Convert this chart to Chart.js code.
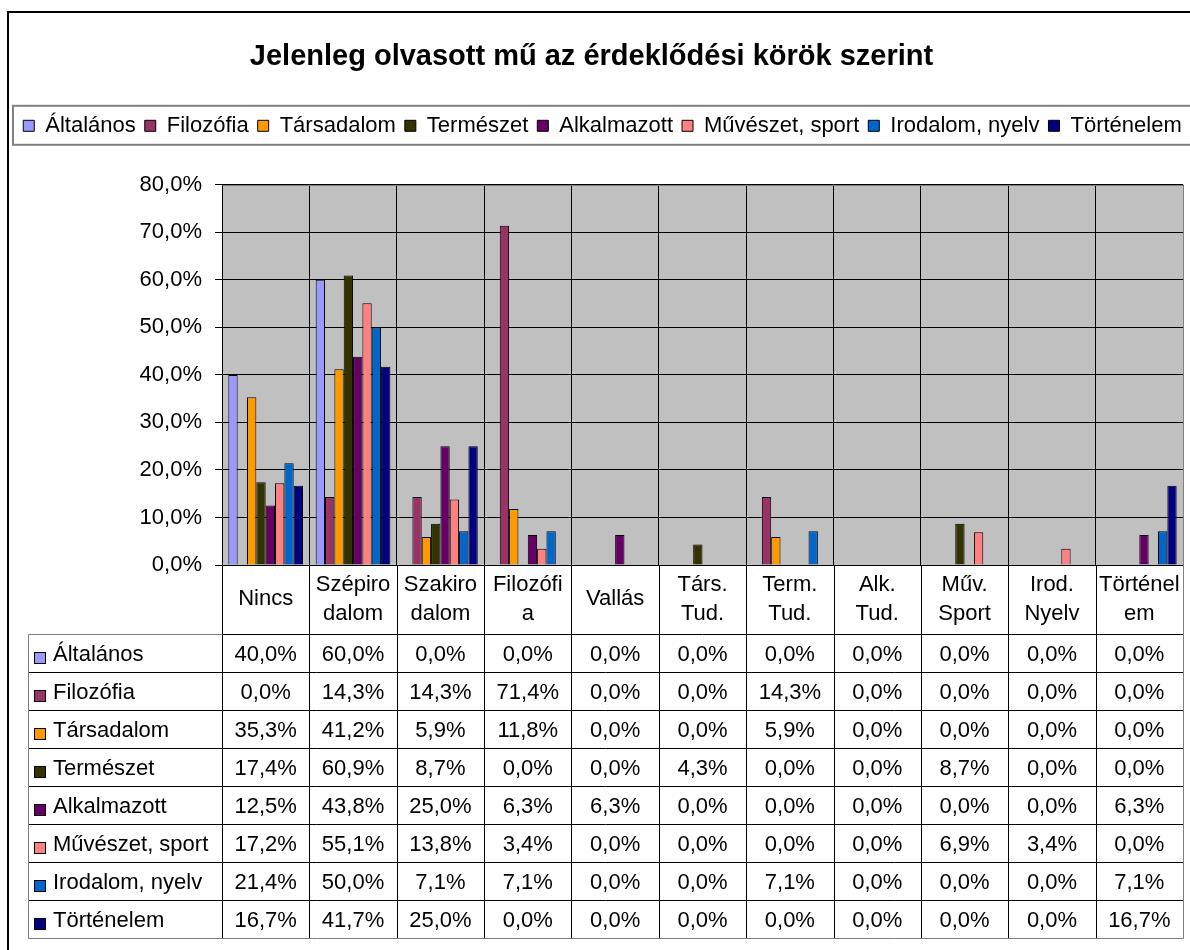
<!DOCTYPE html>
<html>
<head>
<meta charset="utf-8">
<script src="https://cdn.jsdelivr.net/npm/chart.js@4.4.0/dist/chart.umd.min.js"></script>
<style>html,body{margin:0;padding:0;background:#fff}canvas{display:block}</style>
</head>
<body>
<canvas id="c" width="1190" height="950"></canvas>
<script>
// ---- data ----
const chartTitle = 'Jelenleg olvasott mű az érdeklődési körök szerint';
const categories = ['Nincs', ['Szépiro', 'dalom'], ['Szakiro', 'dalom'], ['Filozófi', 'a'], 'Vallás',
  ['Társ.', 'Tud.'], ['Term.', 'Tud.'], ['Alk.', 'Tud.'], ['Műv.', 'Sport'], ['Irod.', 'Nyelv'], ['Történel', 'em']];
const seriesNames = ['Általános', 'Filozófia', 'Társadalom', 'Természet', 'Alkalmazott',
  'Művészet, sport', 'Irodalom, nyelv', 'Történelem'];
const seriesColors = ['#9999FF', '#993366', '#FF9900', '#333300', '#660066', '#FF8080', '#0066CC', '#000080'];
const valAltalanos  = [40.0, 60.0, 0.0, 0.0, 0.0, 0.0, 0.0, 0.0, 0.0, 0.0, 0.0];
const valFilozofia  = [0.0, 14.3, 14.3, 71.4, 0.0, 0.0, 14.3, 0.0, 0.0, 0.0, 0.0];
const valTarsadalom = [35.3, 41.2, 5.9, 11.8, 0.0, 0.0, 5.9, 0.0, 0.0, 0.0, 0.0];
const valTermeszet  = [17.4, 60.9, 8.7, 0.0, 0.0, 4.3, 0.0, 0.0, 8.7, 0.0, 0.0];
const valAlkalmazott = [12.5, 43.8, 25.0, 6.3, 6.3, 0.0, 0.0, 0.0, 0.0, 0.0, 6.3];
const valMuveszet   = [17.2, 55.1, 13.8, 3.4, 0.0, 0.0, 0.0, 0.0, 6.9, 3.4, 0.0];
const valIrodalom   = [21.4, 50.0, 7.1, 7.1, 0.0, 0.0, 7.1, 0.0, 0.0, 0.0, 7.1];
const valTortenelem = [16.7, 41.7, 25.0, 0.0, 0.0, 0.0, 0.0, 0.0, 0.0, 0.0, 16.7];
const seriesValues = [valAltalanos, valFilozofia, valTarsadalom, valTermeszet, valAlkalmazott,
  valMuveszet, valIrodalom, valTortenelem];
const yMin = 0, yMax = 80, yStep = 10;

// ---- styling ----
const FONT = "'Liberation Sans', Arial, sans-serif";
Chart.defaults.font.family = FONT;
const fmt = v => Number(v).toFixed(1).replace('.', ',') + '%';

const plotBg = {
  id: 'plotBg',
  beforeDraw(chart) {
    const {ctx, chartArea: a} = chart;
    ctx.save();
    ctx.fillStyle = '#C0C0C0';
    ctx.fillRect(a.left, a.top, a.right - a.left, a.bottom - a.top);
    ctx.restore();
  }
};

const legendSpacer = {
  id: 'legendSpacer',
  beforeLayout(chart) {
    const lg = chart.legend;
    if (!lg || lg._spacerPatched) return;
    const fit = lg.fit.bind(lg);
    lg.fit = function () { fit(); this.height += 38; };
    lg._spacerPatched = true;
  },
  afterLayout(chart) {
    const lg = chart.legend;
    if (lg) { lg.left += 11; lg.right += 11; }
  }
};

const decor = {
  id: 'decor',
  afterDraw(chart) {
    const {ctx, chartArea: a, scales: {x}} = chart;
    const ds = chart.data.datasets;
    const n = categories.length;
    const colW = (a.right - a.left) / n;
    const hdrH = 69, rowH = 38, tLeft = 28;
    const tTop = a.bottom + hdrH;
    const tBottom = tTop + rowH * ds.length;
    const px = v => Math.round(v) + 0.5;
    ctx.save();
    // plot top/right border
    ctx.strokeStyle = '#808080';
    ctx.lineWidth = 1;
    ctx.beginPath();
    ctx.moveTo(px(a.left), px(a.top)); ctx.lineTo(px(a.right), px(a.top)); ctx.lineTo(px(a.right), px(a.bottom));
    ctx.stroke();
    // table lines
    ctx.strokeStyle = '#000';
    ctx.beginPath();
    for (let r = 1; r < ds.length; r++) {
      const y = px(tTop + r * rowH);
      ctx.moveTo(tLeft, y); ctx.lineTo(a.right, y);
    }
    ctx.moveTo(a.left, px(tTop)); ctx.lineTo(a.right, px(tTop));
    for (let c = 0; c < n; c++) {
      const xx = px(a.left + c * colW);
      ctx.moveTo(xx, a.bottom); ctx.lineTo(xx, tBottom);
    }
    ctx.stroke();
    ctx.strokeStyle = '#808080';
    ctx.beginPath();
    ctx.moveTo(px(tLeft), px(tTop)); ctx.lineTo(a.left, px(tTop));
    ctx.moveTo(px(tLeft), px(tTop)); ctx.lineTo(px(tLeft), px(tBottom)); ctx.lineTo(px(a.right), px(tBottom));
    ctx.lineTo(px(a.right), a.bottom);
    ctx.stroke();
    // table texts
    ctx.font = '22px ' + FONT;
    ctx.textBaseline = 'middle';
    ds.forEach((d, r) => {
      const cy = tTop + r * rowH + rowH / 2;
      ctx.fillStyle = d.backgroundColor;
      ctx.fillRect(34, Math.round(cy) - 1, 11, 11);
      ctx.strokeStyle = '#000';
      ctx.strokeRect(34.5, Math.round(cy) - 0.5, 11, 11);
      ctx.fillStyle = '#000';
      ctx.textAlign = 'left';
      ctx.fillText(d.label, 53, cy + 2);
      ctx.textAlign = 'center';
      d.data.forEach((v, i) => ctx.fillText(fmt(v), x.getPixelForValue(i), cy + 2));
    });
    // legend box
    const lg = chart.legend;
    ctx.strokeStyle = '#808080';
    ctx.lineWidth = 2;
    ctx.strokeRect(13, lg.top, 1300, 39);
    // outer frame
    ctx.strokeStyle = '#000';
    ctx.lineWidth = 2;
    ctx.strokeRect(8, 12, 1300, 1300);
    ctx.restore();
  }
};

new Chart(document.getElementById('c'), {
  type: 'bar',
  data: {
    labels: categories,
    datasets: seriesNames.map((name, i) => ({
      label: name,
      data: seriesValues[i],
      backgroundColor: seriesColors[i],
      borderColor: '#000',
      borderWidth: 1,
      categoryPercentage: 0.855,
      barPercentage: 1.0
    }))
  },
  options: {
    responsive: false,
    devicePixelRatio: 1,
    animation: false,
    layout: {padding: {left: 0, right: 7, top: 0, bottom: 0}},
    plugins: {
      title: {
        display: true, text: chartTitle, color: '#000',
        font: {size: 29, weight: 'bold', family: FONT},
        padding: {top: 40, bottom: 31}
      },
      legend: {
        display: true, position: 'top',
        labels: {boxWidth: 11, boxHeight: 11, padding: 9, color: '#000', font: {size: 22, family: FONT}}
      },
      tooltip: {enabled: false}
    },
    scales: {
      x: {
        type: 'category',
        offset: true,
        grid: {display: true, color: '#000', lineWidth: 1, drawTicks: false, offset: true},
        border: {color: '#000', width: 1},
        ticks: {color: '#000', font: {size: 22, family: FONT, lineHeight: 1.3}, padding: 20,
          autoSkip: false, maxRotation: 0, minRotation: 0, crossAlign: 'center'},
        afterFit(s) { s.height = 385; s.paddingLeft = 0; s.paddingRight = 0; }
      },
      y: {
        min: yMin, max: yMax,
        ticks: {stepSize: yStep, callback: v => fmt(v), color: '#000', font: {size: 22, family: FONT}, padding: 13},
        grid: {color: '#000', lineWidth: 1, tickLength: 7, drawTicks: true},
        border: {color: '#000', width: 1},
        afterFit(s) { s.width = 222; }
      }
    }
  },
  plugins: [plotBg, legendSpacer, decor]
});
</script>
</body>
</html>
